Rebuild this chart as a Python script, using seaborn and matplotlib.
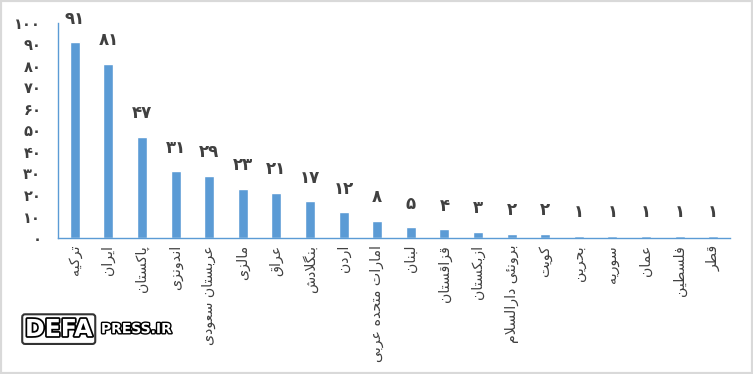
import matplotlib
matplotlib.use('Agg')
import matplotlib.pyplot as plt
import matplotlib.patheffects as pe
from matplotlib.patches import Rectangle
from matplotlib.ticker import FixedLocator, FuncFormatter
import seaborn as sns

# data
countries = ['ترکیه', 'ایران', 'پاکستان', 'اندونزی', 'عربستان سعودی', 'مالزی', 'عراق',
             'بنگلادش', 'اردن', 'امارات متحده عربی', 'لبنان', 'قزاقستان', 'ازبکستان',
             'برونئی دارالسلام', 'کویت', 'بحرین', 'سوریه', 'عمان', 'فلسطین', 'قطر']
counts = [91, 81, 47, 31, 29, 23, 21, 17, 12, 8, 5, 4, 3, 2, 2, 1, 1, 1, 1, 1]
y_ticks = [0, 10, 20, 30, 40, 50, 60, 70, 80, 90, 100]

BAR = '#5B9BD5'
TXT = '#404040'

# arabic presentation forms: isolated, final, initial, medial
FORMS = {
    'ا': (0xFE8D, 0xFE8E, None, None),
    'ب': (0xFE8F, 0xFE90, 0xFE91, 0xFE92),
    'ت': (0xFE95, 0xFE96, 0xFE97, 0xFE98),
    'ح': (0xFEA1, 0xFEA2, 0xFEA3, 0xFEA4),
    'د': (0xFEA9, 0xFEAA, None, None),
    'ر': (0xFEAD, 0xFEAE, None, None),
    'ز': (0xFEAF, 0xFEB0, None, None),
    'س': (0xFEB1, 0xFEB2, 0xFEB3, 0xFEB4),
    'ش': (0xFEB5, 0xFEB6, 0xFEB7, 0xFEB8),
    'ط': (0xFEC1, 0xFEC2, 0xFEC3, 0xFEC4),
    'ع': (0xFEC9, 0xFECA, 0xFECB, 0xFECC),
    'ف': (0xFED1, 0xFED2, 0xFED3, 0xFED4),
    'ق': (0xFED5, 0xFED6, 0xFED7, 0xFED8),
    'ل': (0xFEDD, 0xFEDE, 0xFEDF, 0xFEE0),
    'م': (0xFEE1, 0xFEE2, 0xFEE3, 0xFEE4),
    'ن': (0xFEE5, 0xFEE6, 0xFEE7, 0xFEE8),
    'ه': (0xFEE9, 0xFEEA, 0xFEEB, 0xFEEC),
    'و': (0xFEED, 0xFEEE, None, None),
    'ئ': (0xFE89, 0xFE8A, 0xFE8B, 0xFE8C),
    'پ': (0xFB56, 0xFB57, 0xFB58, 0xFB59),
    'ک': (0xFB8E, 0xFB8F, 0xFB90, 0xFB91),
    'گ': (0xFB92, 0xFB93, 0xFB94, 0xFB95),
    'ی': (0xFBFC, 0xFBFD, 0xFBFE, 0xFBFF),
}


def dual(c):
    return c in FORMS and FORMS[c][2] is not None


def shape(word):
    out = []
    i = 0
    n = len(word)
    while i < n:
        c = word[i]
        if c not in FORMS:
            out.append(c)
            i += 1
            continue
        prev_join = i > 0 and dual(word[i - 1])
        if c == 'ل' and i + 1 < n and word[i + 1] == 'ا':
            out.append(chr(0xFEFC if prev_join else 0xFEFB))
            i += 2
            continue
        next_join = dual(c) and i + 1 < n and word[i + 1] in FORMS
        iso, fin, ini, med = FORMS[c]
        if prev_join and next_join:
            g = med
        elif prev_join:
            g = fin
        elif next_join:
            g = ini
        else:
            g = iso
        out.append(chr(g))
        i += 1
    return ''.join(reversed(out))


FA_DIGITS = str.maketrans('0123456789', '۰۱۲۳۴۵۶۷۸۹')


def fa(n):
    return str(int(n)).translate(FA_DIGITS)


sns.set_style('white')
plt.rcParams['font.family'] = ['DejaVu Sans']

fig = plt.figure(figsize=(7.53, 3.74), dpi=100)
ax = fig.add_axes([0.077, 0.3636, 0.8925, 0.575])

sns.barplot(x=countries, y=counts, color=BAR, width=0.3, saturation=1, ax=ax)

ax.set_ylim(0, 100)
ax.set_xlim(-0.5, len(countries) - 0.5)
ax.yaxis.set_major_locator(FixedLocator(y_ticks))
ax.yaxis.set_major_formatter(FuncFormatter(lambda v, p: fa(v)))
ax.set_xticks(range(len(countries)))
ax.set_xticklabels([shape(c) for c in countries], rotation=90, fontsize=10.2, color=TXT)
ax.tick_params(axis='y', length=0, pad=12, labelsize=10.5, labelcolor=TXT)
ax.tick_params(axis='x', length=0, pad=5)
for t in ax.get_yticklabels():
    t.set_fontweight('bold')

for s in ['top', 'right']:
    ax.spines[s].set_visible(False)
for s in ['left', 'bottom']:
    ax.spines[s].set_color(BAR)
    ax.spines[s].set_linewidth(1.0)

for i, v in enumerate(counts):
    ax.annotate(fa(v), (i, v), xytext=(0, 17), textcoords='offset points',
                ha='center', va='center', fontsize=12, fontweight='bold', color=TXT)

# watermark
fig.text(0.078, 0.12, 'DEFA', fontsize=17, fontweight='bold', color='white',
         ha='center', va='center',
         path_effects=[pe.withStroke(linewidth=2.5, foreground='black')],
         bbox=dict(boxstyle='round,pad=0.12', fc='white', ec='#333333', lw=1.5))
fig.text(0.134, 0.12, 'PRESS.IR', fontsize=10, fontweight='bold', color='white',
         ha='left', va='center',
         path_effects=[pe.withStroke(linewidth=2, foreground='black')])

fig.add_artist(Rectangle((0, 0), 1, 1, transform=fig.transFigure, fill=False,
                         edgecolor='#d9d9d9', lw=3))

fig.savefig('out.png', dpi=100)
